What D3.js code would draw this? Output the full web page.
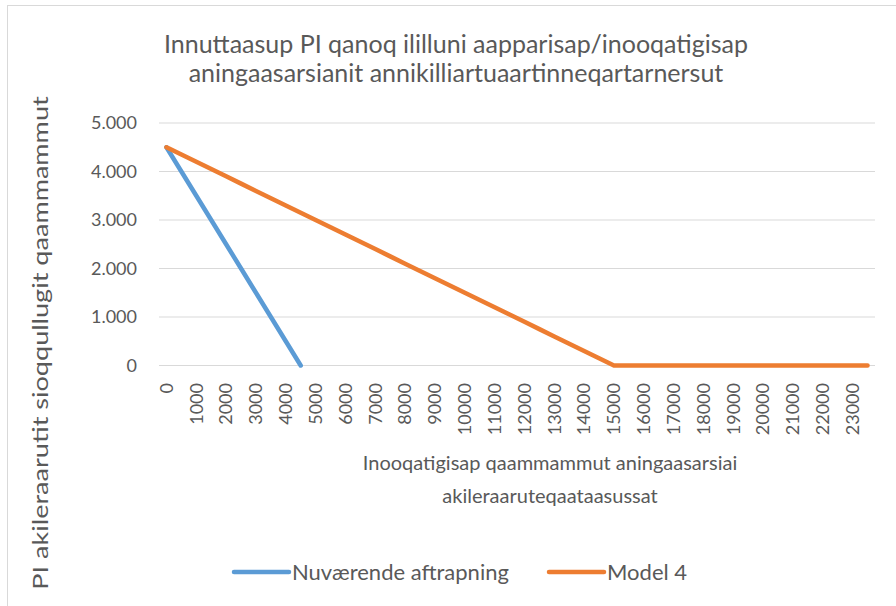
<!DOCTYPE html>
<html>
<head>
<meta charset="utf-8">
<script src="https://cdn.jsdelivr.net/npm/d3@7"></script>
<style>
  body { margin: 0; background: #fff; }
  text { font-family: Lato, "Open Sans", sans-serif; fill: #595959; }
</style>
</head>
<body>
<svg width="896" height="606"></svg>
<script>
const width = 896,
  height = 606;

// Income steps (kr), every 500; only every other step gets a label.
const categories = [
  0, 500, 1000, 1500, 2000, 2500, 3000, 3500, 4000, 4500, 5000, 5500,
  6000, 6500, 7000, 7500, 8000, 8500, 9000, 9500, 10000, 10500, 11000, 11500,
  12000, 12500, 13000, 13500, 14000, 14500, 15000, 15500, 16000, 16500, 17000, 17500,
  18000, 18500, 19000, 19500, 20000, 20500, 21000, 21500, 22000, 22500, 23000, 23500
];

// Current phase-out: ends at 4500.
const currentValues = [4500, 4000, 3500, 3000, 2500, 2000, 1500, 1000, 500, 0];

// Model 4: down to zero at 15000, flat after that.
const model4Values = [
  4500, 4350, 4200, 4050, 3900, 3750, 3600, 3450, 3300, 3150, 3000, 2850,
  2700, 2550, 2400, 2250, 2100, 1950, 1800, 1650, 1500, 1350, 1200, 1050,
  900, 750, 600, 450, 300, 150, 0, 0, 0, 0, 0, 0,
  0, 0, 0, 0, 0, 0, 0, 0, 0, 0, 0, 0
];

const yTicks = [0, 1000, 2000, 3000, 4000, 5000];

const seriesNames = ["Nuværende aftrapning", "Model 4"];
const seriesColors = ["#5B9BD5", "#ED7D31"];

const titleLines = [
  "Innuttaasup PI qanoq ililluni aapparisap/inooqatigisap",
  "aningaasarsianit annikilliartuaartinneqartarnersut"
];
const xTitleLines = [
  "Inooqatigisap qaammammut aningaasarsiai",
  "akileraaruteqaataasussat"
];
const yTitle = "PI akileraarutit sioqqullugit qaammammut";

const plot = { left: 159, right: 875, top: 123, bottom: 365.5 };

const svg = d3.select("svg");

// chart area border (only top/left visible in the crop)
svg.append("rect")
  .attr("x", 7.5).attr("y", 5.5)
  .attr("width", 900).attr("height", 610)
  .attr("fill", "none")
  .attr("stroke", "#D9D9D9");

const x = d3.scalePoint()
  .domain(categories)
  .range([plot.left, plot.right])
  .padding(0.5);

const y = d3.scaleLinear()
  .domain([0, 5000])
  .range([plot.bottom, plot.top]);

// gridlines
svg.append("g")
  .selectAll("line")
  .data(yTicks)
  .join("line")
  .attr("x1", plot.left).attr("x2", plot.right)
  .attr("y1", d => y(d)).attr("y2", d => y(d))
  .attr("stroke", "#D9D9D9")
  .attr("stroke-width", 1);

// y tick labels, Danish number format
const fmt = d3.formatLocale({ decimal: ",", thousands: ".", grouping: [3], currency: ["", " kr."] }).format(",");
svg.append("g")
  .selectAll("text")
  .data(yTicks)
  .join("text")
  .attr("x", 137)
  .attr("y", d => y(d))
  .attr("dy", "0.35em")
  .attr("text-anchor", "end")
  .style("font-size", "18px")
  .text(d => fmt(d));

// x tick labels, rotated
svg.append("g")
  .selectAll("text")
  .data(categories.filter((d, i) => i % 2 === 0))
  .join("text")
  .attr("transform", d => "translate(" + x(d) + ",383) rotate(-90)")
  .attr("dy", "0.35em")
  .attr("text-anchor", "end")
  .style("font-size", "18px")
  .text(d => d);

// lines
const line = d3.line()
  .x((d, i) => x(categories[i]))
  .y(d => y(d));

[currentValues, model4Values].forEach((vals, k) => {
  svg.append("path")
    .datum(vals)
    .attr("d", line)
    .attr("fill", "none")
    .attr("stroke", seriesColors[k])
    .attr("stroke-width", 4.5)
    .attr("stroke-linecap", "round")
    .attr("stroke-linejoin", "round");
});

// chart title
svg.append("g")
  .selectAll("text")
  .data(titleLines)
  .join("text")
  .attr("x", 456)
  .attr("y", (d, i) => 53 + i * 29)
  .attr("text-anchor", "middle")
  .style("font-size", "25px")
  .text(d => d);

// x axis title
svg.append("g")
  .selectAll("text")
  .data(xTitleLines)
  .join("text")
  .attr("x", 550)
  .attr("y", (d, i) => 470 + i * 33)
  .attr("text-anchor", "middle")
  .style("font-size", "20px")
  .text(d => d);

// y axis title (stretched along its length like the original)
svg.append("text")
  .attr("transform", "translate(48,343) rotate(-90) scale(1.29,1)")
  .attr("text-anchor", "middle")
  .style("font-size", "21px")
  .text(yTitle);

// legend
const legendItems = [
  { name: seriesNames[0], color: seriesColors[0], x: 234 },
  { name: seriesNames[1], color: seriesColors[1], x: 549 }
];
const lg = svg.append("g")
  .selectAll("g")
  .data(legendItems)
  .join("g")
  .attr("transform", d => "translate(" + d.x + ",572)");
lg.append("line")
  .attr("x1", 0).attr("x2", 55)
  .attr("stroke", d => d.color)
  .attr("stroke-width", 4.5)
  .attr("stroke-linecap", "round");
lg.append("text")
  .attr("x", 58)
  .attr("dy", "0.35em")
  .style("font-size", "22px")
  .text(d => d.name);
</script>
</body>
</html>
